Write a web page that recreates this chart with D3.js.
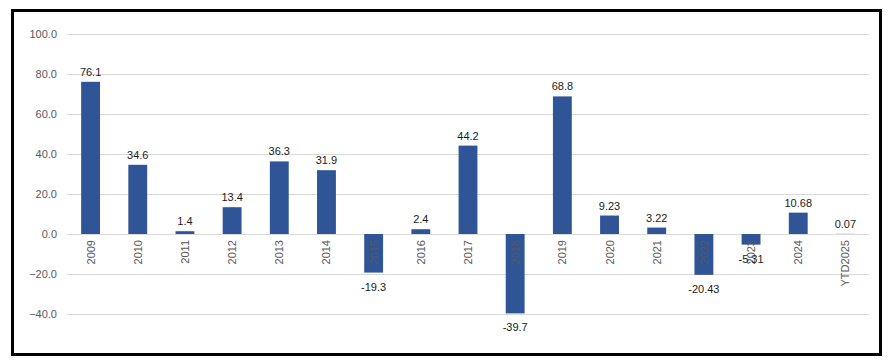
<!DOCTYPE html>
<html><head><meta charset="utf-8">
<script src="https://cdn.jsdelivr.net/npm/d3@7"></script>
<style>html,body{margin:0;padding:0;background:#fff;}svg{display:block;}</style>
</head><body>
<svg id="chart" width="890" height="364"></svg>
<script>
const categories = ["2009","2010","2011","2012","2013","2014","2015","2016","2017","2018","2019","2020","2021","2022","2023","2024","YTD2025"];
const values = [76.1, 34.6, 1.4, 13.4, 36.3, 31.9, -19.3, 2.4, 44.2, -39.7, 68.8, 9.23, 3.22, -20.43, -5.31, 10.68, 0.07];
const yTicks = [-40, -20, 0, 20, 40, 60, 80, 100];

const svg = d3.select("#chart");
const font = "'Liberation Sans', Arial, sans-serif";

svg.append("rect").attr("x", 12.5).attr("y", 10.5).attr("width", 868).attr("height", 344)
  .attr("fill", "#fff").attr("stroke", "#000").attr("stroke-width", 3);

const x = d3.scaleBand().domain(categories).range([67, 869]).paddingInner(0.6).paddingOuter(0.3);
const y = d3.scaleLinear().domain([-40, 100]).range([314, 34]);

const gy = svg.append("g").attr("transform", "translate(67,0)")
  .call(d3.axisLeft(y).tickValues(yTicks).tickFormat(d3.format(".1f")).tickSize(-802).tickPadding(10));
gy.select(".domain").remove();
gy.selectAll(".tick line").attr("stroke", "#d9d9d9").attr("stroke-width", 1);
gy.selectAll(".tick text").attr("fill", "#595959").style("font-family", font).style("font-size", "11px");

svg.append("g").selectAll("rect").data(values).join("rect")
  .attr("x", (d, i) => x(categories[i]))
  .attr("width", x.bandwidth())
  .attr("y", d => y(Math.max(0, d)))
  .attr("height", d => Math.abs(y(d) - y(0)))
  .attr("fill", "#2f5597");

svg.append("g").selectAll("text").data(categories).join("text")
  .attr("transform", d => `translate(${x(d) + x.bandwidth() / 2 + 4},240) rotate(-90)`)
  .attr("text-anchor", "end")
  .attr("fill", "#595959")
  .style("font-family", font).style("font-size", "11px")
  .text(d => d);

svg.append("g").selectAll("text").data(values).join("text")
  .attr("x", (d, i) => x(categories[i]) + x.bandwidth() / 2)
  .attr("y", d => d >= 0 ? y(d) - 6 : y(d) + 18)
  .attr("text-anchor", "middle")
  .attr("fill", "#1a1a1a")
  .style("font-family", font).style("font-size", "11px")
  .text(d => String(d));
</script>
</body></html>
